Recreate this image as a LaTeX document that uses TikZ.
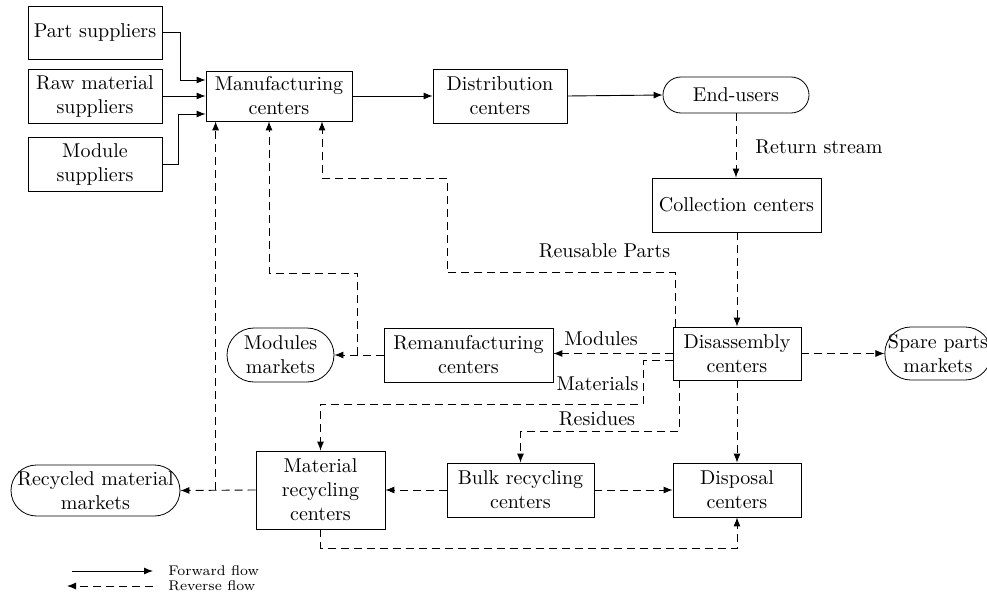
\documentclass[tikz,border=0pt]{standalone}
\usetikzlibrary{arrows.meta,calc}
\begin{document}
\begin{tikzpicture}[x=0.5pt,y=-0.5pt,
  box/.style={draw, align=center, inner sep=1pt, line width=0.4pt},
  market/.style={box, inner xsep=1.5pt},
  fwd/.style={-{Latex[length=4.5pt,width=3.5pt]}, line width=0.45pt},
  rev/.style={-{Latex[length=4.5pt,width=3.5pt]}, line width=0.45pt, dash pattern=on 4pt off 2.5pt},
  lbl/.style={inner sep=0pt}]
\useasboundingbox (0,0) rectangle (987,594);
% nodes
\node[box, minimum width=67pt, minimum height=26.5pt] (ps) at (95,32.5) {Part suppliers};
\node[box, minimum width=67pt, minimum height=27pt] (rm) at (95,96) {Raw material\\suppliers};
\node[box, minimum width=67pt, minimum height=27pt] (ms) at (95,164) {Module\\suppliers};
\node[box, minimum width=73pt, minimum height=25pt] (mc) at (279,96) {Manufacturing\\centers};
\node[box, minimum width=67pt, minimum height=27pt] (dc) at (500,96) {Distribution\\centers};
\node[market, rounded corners=9pt, minimum width=73pt, minimum height=18pt] (eu) at (736,95) {End-users};
\node[box, minimum width=84.5pt, minimum height=27pt] (cc) at (736.5,205) {Collection centers};
\node[box, minimum width=64pt, minimum height=26.5pt] (da) at (737,353.5) {Disassembly\\centers};
\node[market, rounded corners=13pt, minimum width=53pt, minimum height=26.5pt] (sp) at (938,353.5) {Spare parts\\markets};
\node[market, rounded corners=13.5pt, minimum width=53.5pt, minimum height=27pt] (mm) at (280.5,355) {Modules\\markets};
\node[box, minimum width=84.5pt, minimum height=27pt] (rc) at (468.5,355) {Remanufacturing\\centers};
\node[box, minimum width=64.5pt, minimum height=39pt] (mr) at (320.5,490) {Material\\recycling\\centers};
\node[box, minimum width=73.5pt, minimum height=27pt] (br) at (520.5,490) {Bulk recycling\\centers};
\node[box, minimum width=64pt, minimum height=27pt] (dp) at (737,490) {Disposal\\centers};
\node[market, rounded corners=12.75pt, minimum width=84.5pt, minimum height=25.5pt] (rmm) at (95.5,490.5) {Recycled material\\markets};
% labels
\node[lbl] (lret) at (819,147) {Return stream};
\node[lbl] (lreu) at (604.5,251) {Reusable Parts};
\node[lbl] (lmod) at (601,339) {Modules};
\node[lbl] (lmat) at (597.5,384) {Materials};
\node[lbl] (lres) at (597,419) {Residues};
% forward flow
\draw[fwd] (ps.east) -- ++(18,0) |- ([yshift=8pt]mc.west);
\draw[fwd] (rm.east) -- (mc.west);
\draw[fwd] (ms.east) -- ++(16,0) |- ([yshift=-9pt]mc.west);
\draw[fwd] (mc.east) -- (dc.west);
\draw[fwd] (dc.east) -- (eu.west);
% reverse flow
\draw[rev] (eu.south) -- (eu.south |- cc.north);
\draw[rev] (cc.south -| da.north) -- (da.north);
\draw[rev] (da.east) -- (sp.west);
\draw[rev] (da.south) -- (dp.north);
\draw[rev] (da.west) -- (da.west -| rc.east);
\coordinate (m1) at (643,404);
\draw[rev] ([yshift=-3.5pt]da.west) -| (m1) -| (mr.north);
\draw[rev] ([xshift=-29pt]da.south) -- ++(0,51) -| (br.north);
\coordinate (r1) at (447,178);
\draw[rev] ([xshift=-31pt]da.north) -- ++(0,-54) -| (r1) -| ([xshift=21.5pt]mc.south);
\draw[rev] (rc.west) -- (mm.east);
\path (rc.west) ++(-13pt,0) coordinate (j1);
\draw[rev] (j1) -- ++(0,-82) -| ([xshift=-5pt]mc.south);
\draw[rev] (mr.west) -- (rmm.east);
\path (mr.west) ++(-20pt,0) coordinate (j2);
\draw[rev] (j2) -- (j2 |- mc.south);
\draw[rev] (br.west) -- (mr.east);
\draw[rev] (br.east) -- (dp.west);
\draw[rev] (mr.south) -- ++(0,19) -| (dp.south);
% legend
\coordinate (f1) at (72,571);
\coordinate (f2) at (153,571);
\coordinate (b1) at (153,586);
\coordinate (b2) at (67,586);
\draw[fwd] (f1) -- (f2);
\draw[rev] (b1) -- (b2);
\node[lbl, anchor=west, font=\scriptsize] (lf) at (168,571) {Forward flow};
\node[lbl, anchor=west, font=\scriptsize] (lr) at (168,586) {Reverse flow};
\end{tikzpicture}
\end{document}
